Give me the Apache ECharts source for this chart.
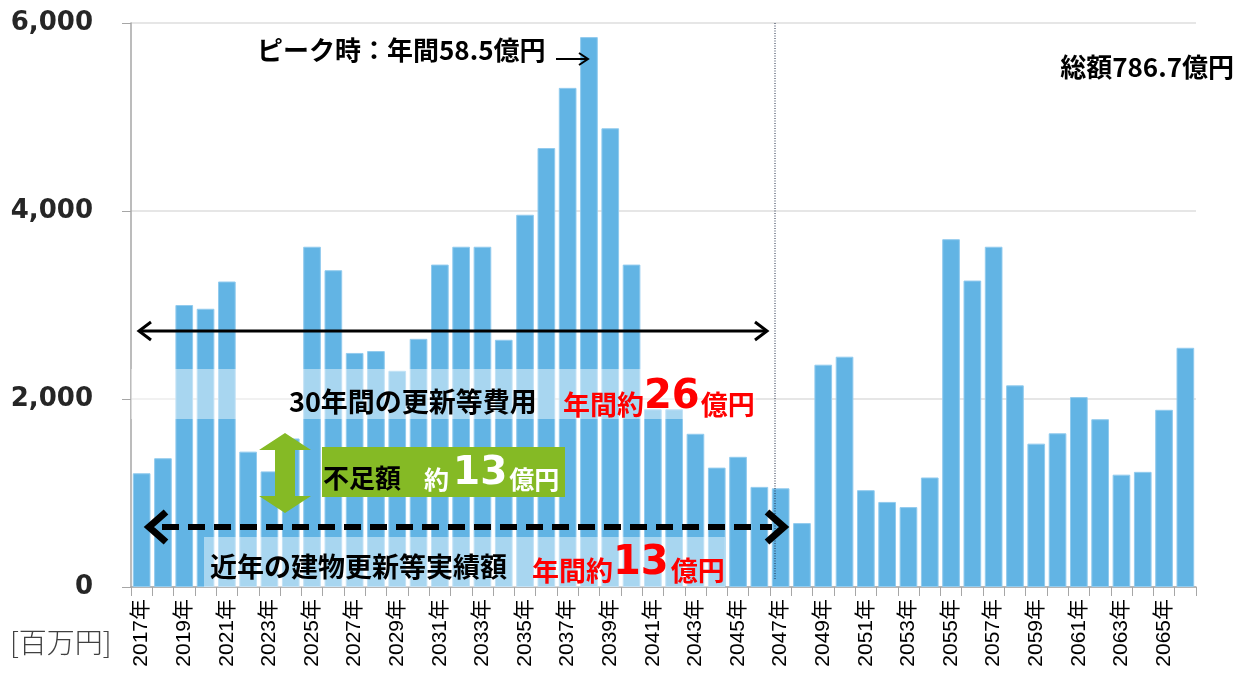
<!DOCTYPE html>
<html>
<head>
<meta charset="utf-8">
<script src="https://cdn.jsdelivr.net/npm/echarts@6/dist/echarts.min.js"></script>
<style>
  html, body { margin: 0; padding: 0; background: #fff; }
  #chart { width: 1239px; height: 679px; }
</style>
</head>
<body>
<div id="chart"></div>
<script>
// 年度
const years = [
  '2017年', '2018年', '2019年', '2020年', '2021年', '2022年', '2023年', '2024年', '2025年', '2026年',
  '2027年', '2028年', '2029年', '2030年', '2031年', '2032年', '2033年', '2034年', '2035年', '2036年',
  '2037年', '2038年', '2039年', '2040年', '2041年', '2042年', '2043年', '2044年', '2045年', '2046年',
  '2047年', '2048年', '2049年', '2050年', '2051年', '2052年', '2053年', '2054年', '2055年', '2056年',
  '2057年', '2058年', '2059年', '2060年', '2061年', '2062年', '2063年', '2064年', '2065年', '2066年'
]
// 更新等費用 [百万円]
const costs = [
  1210, 1370, 3000, 2960, 3250, 1440, 1230, 1580, 3620, 3370,
  2490, 2510, 2300, 2640, 3430, 3620, 3620, 2630, 3960, 4670,
  5310, 5850, 4880, 3430, 1890, 1890, 1630, 1270, 1385, 1065,
  1050, 680, 2365, 2450, 1030, 905, 850, 1165, 3700, 3260,
  3620, 2145, 1525, 1635, 2020, 1785, 1195, 1225, 1885, 2545
]
const yTicks = [0, 2000, 4000, 6000]

const JP = '"Noto Sans CJK JP", sans-serif'
const NUM = '"DejaVu Sans", "Noto Sans CJK JP", sans-serif'
const RED = '#ff0000'
const GREEN = '#85BA25'

const chart = echarts.init(document.getElementById('chart'))

function comma(v) {
  return String(v).replace(/\B(?=(\d{3})+(?!\d))/g, ',')
}

const option = {
  animation: false,
  grid: { left: 131, right: 43, top: 23, bottom: 92, containLabel: false },
  xAxis: {
    type: 'category',
    data: years,
    axisLine: { lineStyle: { color: '#a6a6a6', width: 1.5 } },
    axisTick: { show: true, interval: 0, length: 9, lineStyle: { color: '#a6a6a6' } },
    axisLabel: {
      interval: 1,
      rotate: 90,
      margin: 12,
      fontSize: 21,
      color: '#000',
      fontFamily: '"Liberation Sans", "Noto Sans CJK JP", sans-serif'
    }
  },
  yAxis: {
    type: 'value',
    min: yTicks[0],
    max: yTicks[yTicks.length - 1],
    interval: 2000,
    axisLine: { show: true, lineStyle: { color: '#a6a6a6', width: 1.5 } },
    axisTick: { show: true, length: 9, lineStyle: { color: '#a6a6a6' } },
    splitLine: { lineStyle: { color: '#dedede', width: 1.5 } },
    axisLabel: {
      margin: 38,
      fontSize: 26,
      fontWeight: 'bold',
      color: '#262626',
      fontFamily: NUM,
      formatter: comma
    }
  },
  series: [
    {
      type: 'bar',
      data: costs,
      barCategoryGap: '17%',
      itemStyle: { color: '#62B4E4', borderColor: '#92cbee', borderWidth: 1 },
      z: 2
    }
  ],
  graphic: [
    // 30年間の帯
    { type: 'rect', z: 10, shape: { x: 131, y: 369, width: 625, height: 50 },
      style: { fill: 'rgba(255,255,255,0.45)' } },
    // 近年実績の帯
    { type: 'rect', z: 10, shape: { x: 204, y: 537, width: 521, height: 50 },
      style: { fill: 'rgba(255,255,255,0.45)' } },
    // 点線（30年の区切り）
    { type: 'line', z: 11, shape: { x1: 775, y1: 23, x2: 775, y2: 580 },
      style: { stroke: '#1f2a44', lineWidth: 1, lineDash: [1, 1.5] } },
    // 30年間の矢印
    { type: 'line', z: 12, shape: { x1: 139, y1: 331, x2: 767, y2: 331 },
      style: { stroke: '#000', lineWidth: 3 } },
    { type: 'polyline', z: 12, shape: { points: [[151, 322], [139, 331], [151, 340]] },
      style: { stroke: '#000', lineWidth: 3, fill: null } },
    { type: 'polyline', z: 12, shape: { points: [[755, 322], [767, 331], [755, 340]] },
      style: { stroke: '#000', lineWidth: 3, fill: null } },
    // 近年実績の点線矢印
    { type: 'line', z: 12, shape: { x1: 162, y1: 527, x2: 772, y2: 527 },
      style: { stroke: '#000', lineWidth: 6, lineDash: [17, 9] } },
    { type: 'polyline', z: 12, shape: { points: [[166, 512], [149, 527], [166, 542]] },
      style: { stroke: '#000', lineWidth: 7, fill: null } },
    { type: 'polyline', z: 12, shape: { points: [[767, 512], [784, 527], [767, 542]] },
      style: { stroke: '#000', lineWidth: 7, fill: null } },
    // 不足額の矢印
    { type: 'polygon', z: 12, shape: { points: [
        [285, 433], [311, 450], [295, 450], [295, 496], [311, 496],
        [285, 513], [259, 496], [275, 496], [275, 450], [259, 450]] },
      style: { fill: GREEN } },
    { type: 'rect', z: 12, shape: { x: 322, y: 447, width: 243, height: 50 },
      style: { fill: GREEN } },
    { type: 'text', z: 13, style: { x: 323, y: 478, text: '不足額', fill: '#000',
        font: 'bold 26px ' + JP, verticalAlign: 'middle' } },
    { type: 'text', z: 13, style: { x: 424, y: 493, verticalAlign: 'bottom',
        text: '{a|約}{b|13}{a|億円}',
        rich: {
          a: { fill: '#fff', fontSize: 25, fontWeight: 'bold', fontFamily: JP, verticalAlign: 'bottom', padding: [0, 0, 1, 0] },
          b: { fill: '#fff', fontSize: 39, fontWeight: 'bold', fontFamily: NUM, verticalAlign: 'bottom', padding: [0, 2, 0, 4] }
        } } },
    // 30年間の更新等費用
    { type: 'text', z: 13, style: { x: 289, y: 402, text: '30年間の更新等費用', fill: '#000',
        font: 'bold 27px ' + JP, verticalAlign: 'middle' } },
    { type: 'text', z: 13, style: { x: 563, y: 418, verticalAlign: 'bottom',
        text: '{a|年間約}{b|26}{a|億円}',
        rich: {
          a: { fill: RED, fontSize: 27, fontWeight: 'bold', fontFamily: JP, verticalAlign: 'bottom' },
          b: { fill: RED, fontSize: 40, fontWeight: 'bold', fontFamily: NUM, verticalAlign: 'bottom', padding: [0, 1, 0, 0] }
        } } },
    // 近年の建物更新等実績額
    { type: 'text', z: 13, style: { x: 210, y: 567, text: '近年の建物更新等実績額', fill: '#000',
        font: 'bold 27px ' + JP, verticalAlign: 'middle' } },
    { type: 'text', z: 13, style: { x: 532, y: 584, verticalAlign: 'bottom',
        text: '{a|年間約}{b|13}{a|億円}',
        rich: {
          a: { fill: RED, fontSize: 27, fontWeight: 'bold', fontFamily: JP, verticalAlign: 'bottom' },
          b: { fill: RED, fontSize: 40, fontWeight: 'bold', fontFamily: NUM, verticalAlign: 'bottom', padding: [0, 2, 0, 0] }
        } } },
    // ピーク
    { type: 'text', z: 13, style: { x: 257, y: 50, text: 'ピーク時：年間58.5億円', fill: '#000',
        font: 'bold 26px ' + JP, verticalAlign: 'middle' } },
    { type: 'line', z: 13, shape: { x1: 556, y1: 59, x2: 588, y2: 59 },
      style: { stroke: '#000', lineWidth: 2 } },
    { type: 'polyline', z: 13, shape: { points: [[579, 53], [588, 59], [579, 65]] },
      style: { stroke: '#000', lineWidth: 2, fill: null } },
    // 総額
    { type: 'text', z: 13, style: { x: 1234, y: 67, text: '総額786.7億円', fill: '#000',
        font: 'bold 26px ' + JP, align: 'right', verticalAlign: 'middle' } },
    // 単位
    { type: 'text', z: 13, style: { x: 10, y: 642, text: '[百万円]', fill: '#404040',
        font: '300 28px ' + JP, verticalAlign: 'middle' } }
  ]
}

chart.setOption(option)
</script>
</body>
</html>
